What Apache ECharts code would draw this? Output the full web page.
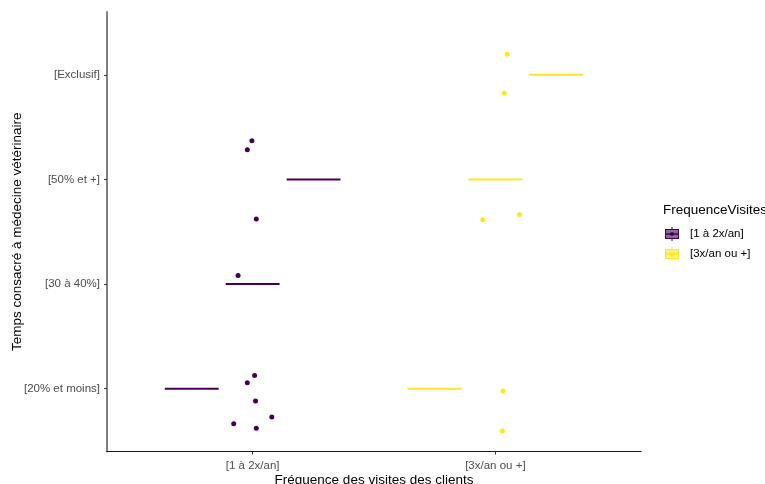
<!DOCTYPE html>
<html>
<head>
<meta charset="utf-8">
<script src="https://cdn.jsdelivr.net/npm/echarts@6/dist/echarts.min.js"></script>
<style>
html,body{margin:0;padding:0;background:#fff;}
#chart{width:765px;height:484px;}
</style>
</head>
<body>
<div id="chart"></div>
<script>
// Categories
const yLevels = ['[20% et moins]', '[30 à 40%]', '[50% et +]', '[Exclusif]'];
const xGroups = ['[1 à 2x/an]', '[3x/an ou +]'];
const legendTitle = 'FrequenceVisites';
const xTitle = 'Fréquence des visites des clients';
const yTitle = 'Temps consacré à médecine vétérinaire';

// Jittered points, group 1 (x position index, y level index)
const g1PointX = [0.997, 0.978, 1.015, 0.940, 1.008, 0.978, 1.012, 1.079, 0.922, 1.015];
const g1PointY = [3.369, 3.283, 2.621, 2.082, 1.127, 1.057, 0.883, 0.730, 0.666, 0.621];
// Jittered points, group 2
const g2PointX = [2.048, 2.037, 2.100, 1.948, 2.031, 2.029];
const g2PointY = [4.197, 3.824, 2.665, 2.614, 0.978, 0.596];

// Collapsed boxplot segments (x start, x end, y level)
const g1SegStart = [0.638, 0.889, 1.140];
const g1SegEnd   = [0.860, 1.111, 1.362];
const g1SegY     = [1, 2, 3];
const g2SegStart = [1.638, 1.889, 2.140];
const g2SegEnd   = [1.860, 2.111, 2.362];
const g2SegY     = [1, 3, 4];

const colors = ['#440154', '#FDE725'];

function pts(xs, ys) { return xs.map((x, i) => [x, ys[i]]); }
function segs(a, b, y) { return a.map((v, i) => [v, b[i], y[i]]); }

function keyIcon(c) {
  const svg = '<svg xmlns="http://www.w3.org/2000/svg" width="14" height="14">' +
    '<line x1="7" y1="0" x2="7" y2="3" stroke="' + c + '" stroke-width="1"/>' +
    '<line x1="7" y1="11" x2="7" y2="14" stroke="' + c + '" stroke-width="1"/>' +
    '<rect x="0.5" y="2.5" width="13" height="9" fill="' + c + '" fill-opacity="0.6" stroke="' + c + '" stroke-width="1"/>' +
    '<line x1="0.5" y1="7" x2="13.5" y2="7" stroke="' + c + '" stroke-width="1.5"/>' +
    '<circle cx="7" cy="7" r="2" fill="' + c + '"/></svg>';
  return 'image://data:image/svg+xml;charset=utf-8,' + encodeURIComponent(svg);
}

function segRender(color) {
  return function (params, api) {
    const p0 = api.coord([api.value(0), api.value(2)]);
    const p1 = api.coord([api.value(1), api.value(2)]);
    return {
      type: 'line',
      shape: { x1: p0[0], y1: p0[1], x2: p1[0], y2: p1[1] },
      style: { stroke: color, lineWidth: 2 }
    };
  };
}

const chart = echarts.init(document.getElementById('chart'), null, { renderer: 'canvas' });
const font = 'Liberation Sans, Arial, sans-serif';

chart.setOption({
  animation: false,
  backgroundColor: '#fff',
  grid: { left: 107, right: 124, top: 12, bottom: 32.5, containLabel: false, outerBoundsMode: 'none' },
  xAxis: {
    type: 'value', min: 0.4, max: 2.6,
    splitLine: { show: false },
    axisLine: { show: true, onZero: false, lineStyle: { color: '#1a1a1a', width: 1.2 } },
    axisTick: { show: true, customValues: [1, 2], length: 3, lineStyle: { color: '#333' } },
    axisLabel: {
      customValues: [1, 2], formatter: v => xGroups[Math.round(v) - 1],
      color: '#4D4D4D', fontFamily: font, fontSize: 11.5, margin: 8
    },
    name: xTitle, nameLocation: 'middle', nameGap: 22, nameMoveOverlap: false,
    nameTextStyle: { color: '#000', fontFamily: font, fontSize: 13.5 }
  },
  yAxis: {
    type: 'value', min: 0.4, max: 4.6,
    splitLine: { show: false },
    axisLine: { show: true, onZero: false, lineStyle: { color: '#808080', width: 2 } },
    axisTick: { show: true, customValues: [1, 2, 3, 4], length: 3, lineStyle: { color: '#333' } },
    axisLabel: {
      customValues: [1, 2, 3, 4], formatter: v => yLevels[Math.round(v) - 1],
      color: '#4D4D4D', fontFamily: font, fontSize: 11.5, margin: 7
    },
    name: yTitle, nameLocation: 'middle', nameGap: 83, nameRotate: 90, nameMoveOverlap: false,
    nameTextStyle: { color: '#000', fontFamily: font, fontSize: 13.5 }
  },
  legend: {
    orient: 'vertical', left: 660, top: 222,
    itemWidth: 14, itemHeight: 14, itemGap: 6,
    textStyle: { color: '#000', fontFamily: font, fontSize: 11.5, padding: [0, 0, 0, 6] },
    data: [
      { name: xGroups[0], icon: keyIcon(colors[0]) },
      { name: xGroups[1], icon: keyIcon(colors[1]) }
    ]
  },
  graphic: [{
    type: 'text', left: 663, top: 203,
    style: { text: legendTitle, fill: '#000', font: '13.5px ' + font }
  }],
  series: [
    {
      name: xGroups[0], type: 'custom', renderItem: segRender(colors[0]),
      encode: { x: [0, 1], y: 2 }, data: segs(g1SegStart, g1SegEnd, g1SegY), silent: true
    },
    {
      name: xGroups[1], type: 'custom', renderItem: segRender(colors[1]),
      encode: { x: [0, 1], y: 2 }, data: segs(g2SegStart, g2SegEnd, g2SegY), silent: true
    },
    {
      name: xGroups[0], type: 'scatter', symbolSize: 5,
      itemStyle: { color: colors[0], opacity: 1 }, data: pts(g1PointX, g1PointY)
    },
    {
      name: xGroups[1], type: 'scatter', symbolSize: 5,
      itemStyle: { color: colors[1], opacity: 1 }, data: pts(g2PointX, g2PointY)
    }
  ]
});
</script>
</body>
</html>
